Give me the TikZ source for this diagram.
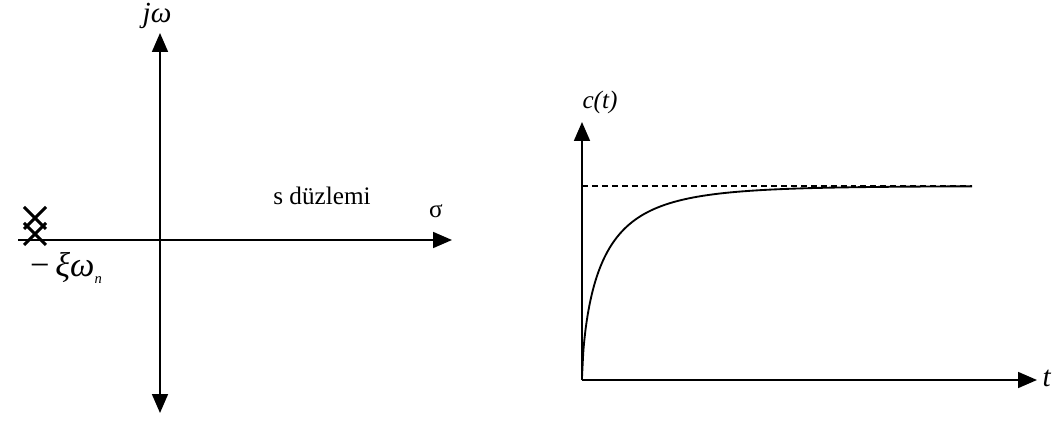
\documentclass[tikz,border=0pt]{standalone}
\usepackage{fontspec}
\setmainfont{Liberation Serif}
\usetikzlibrary{arrows.meta,calc}
\tikzset{
  axis/.style={
    line width=1.4pt,
    -{Triangle[length=0.5cm,width=0.42cm]}
  },
  pole/.style={
    line width=2.2pt
  },
  every picture/.style = {
    font=\fontsize{19}{22}\selectfont
  }
}
\begin{document}
\begin{tikzpicture}[x=0.0265cm,y=-0.0265cm]
            \useasboundingbox (0,0) rectangle (1057,439);
            % s-plane
            \coordinate (o) at (160,240);
            \coordinate (re0) at (18,240);
            \coordinate (re1) at (452,240);
            \coordinate (im0) at (160,413);
            \coordinate (im1) at (160,33);
            \draw[axis] (re0) -- (re1);
            \draw[axis] (o) -- (im1);
            \draw[axis] (o) -- (im0);
            \foreach \y in {218,234}{
                    \draw[pole] (24,\y-11) -- (46,\y+11);
                    \draw[pole] (24,\y+11) -- (46,\y-11);
                }
            \node (jw) at (157,16) {\fontsize{22}{24}\selectfont\textit{jω}};
            \node (sig) at (436,211) {σ};
            \node (pol) at (66,268) {\fontsize{26}{28}\selectfont−\,\textit{ξω}\raisebox{-0.45ex}{\fontsize{11}{12}\selectfont\textit{n}}};
            \node (sd) at (322,196) {s düzlemi};
            % step response
            \coordinate (o2) at (582,380);
            \coordinate (ct) at (582,122);
            \coordinate (tt) at (1037,380);
            \draw[axis] (o2) -- (ct);
            \draw[axis] (o2) -- (tt);
            \node (c) at (600,102) {\textit{c(t)}};
            \node (t) at (1047,378) {\fontsize{22}{24}\selectfont\textit{t}};
            \draw[line width=1.1pt,dash pattern=on 4.5pt off 3pt] (582,186) -- (972,186);
            \draw[line width=1.4pt,domain=0.05:390,samples=300,smooth] (o2) -- plot ({582+\x},{380-194*(1-exp(-((\x/22.5)^0.65)))});
        \end{tikzpicture}
\end{document}
